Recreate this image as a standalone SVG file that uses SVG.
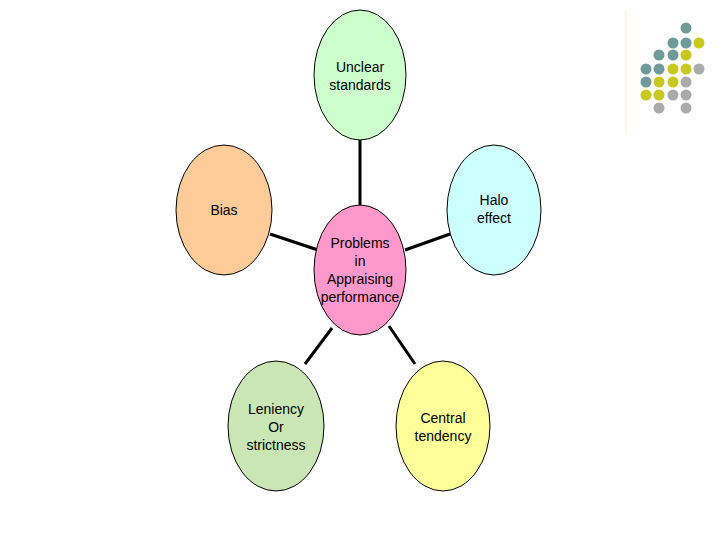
<svg xmlns="http://www.w3.org/2000/svg" width="720" height="540" viewBox="0 0 720 540">
<style>
.n{stroke:#000;stroke-width:1}
.t{font-family:"Liberation Sans",Arial,sans-serif;font-size:14px;text-anchor:middle;fill:#000}
.c{stroke:#000;stroke-width:3;fill:none}
.tl{fill:#6f9a9a}.ye{fill:#c8c81e}.gr{fill:#aaaaaa}
</style>
<rect width="720" height="540" fill="#fff"/>
<line x1="626" y1="10" x2="626" y2="135" stroke="#fafae0" stroke-width="2"/>
<g id="dots">
<circle class="tl" cx="686" cy="28" r="5.5"/>
<circle class="tl" cx="673" cy="43" r="5.5"/><circle class="tl" cx="686" cy="43" r="5.5"/><circle class="ye" cx="699" cy="43" r="5.5"/>
<circle class="tl" cx="659" cy="55" r="5.5"/><circle class="tl" cx="673" cy="55" r="5.5"/><circle class="ye" cx="686" cy="55" r="5.5"/>
<circle class="tl" cx="646" cy="69" r="5.5"/><circle class="tl" cx="659" cy="69" r="5.5"/><circle class="ye" cx="673" cy="69" r="5.5"/><circle class="ye" cx="686" cy="69" r="5.5"/><circle class="gr" cx="699" cy="69" r="5.5"/>
<circle class="tl" cx="646" cy="82" r="5.5"/><circle class="ye" cx="659" cy="82" r="5.5"/><circle class="ye" cx="673" cy="82" r="5.5"/><circle class="gr" cx="686" cy="82" r="5.5"/>
<circle class="ye" cx="646" cy="95" r="5.5"/><circle class="ye" cx="659" cy="95" r="5.5"/><circle class="gr" cx="673" cy="95" r="5.5"/><circle class="gr" cx="686" cy="95" r="5.5"/>
<circle class="gr" cx="659" cy="108" r="5.5"/><circle class="gr" cx="686" cy="108" r="5.5"/>
</g>
<g id="connectors">
<line class="c" x1="360" y1="140" x2="360" y2="205"/>
<line class="c" x1="270" y1="234" x2="318" y2="250"/>
<line class="c" x1="450" y1="234" x2="405" y2="250"/>
<line class="c" x1="305" y1="364" x2="332" y2="328"/>
<line class="c" x1="415" y1="364" x2="389" y2="326"/>
</g>
<g id="top"><ellipse class="n" cx="360" cy="75" rx="46" ry="65" fill="#ccffcc"/><text class="t" x="360" y="72">Unclear</text><text class="t" x="360" y="90">standards</text></g>
<g id="bias"><ellipse class="n" cx="224" cy="210" rx="48" ry="65" fill="#ffcc99"/><text class="t" x="224" y="215">Bias</text></g>
<g id="halo"><ellipse class="n" cx="494" cy="210" rx="47" ry="65" fill="#ccffff"/><text class="t" x="494" y="205">Halo</text><text class="t" x="494" y="223">effect</text></g>
<g id="center"><ellipse class="n" cx="360" cy="270" rx="46" ry="65" fill="#ff99cc"/><text class="t" x="360" y="248">Problems</text><text class="t" x="360" y="266">in</text><text class="t" x="360" y="284">Appraising</text><text class="t" x="360" y="302">performance</text></g>
<g id="leniency"><ellipse class="n" cx="276" cy="426" rx="48" ry="65" fill="#c9e6b4"/><text class="t" x="276" y="414">Leniency</text><text class="t" x="276" y="432">Or</text><text class="t" x="276" y="450">strictness</text></g>
<g id="central"><ellipse class="n" cx="443" cy="426" rx="47" ry="65" fill="#ffff99"/><text class="t" x="443" y="423">Central</text><text class="t" x="443" y="441">tendency</text></g>
</svg>
